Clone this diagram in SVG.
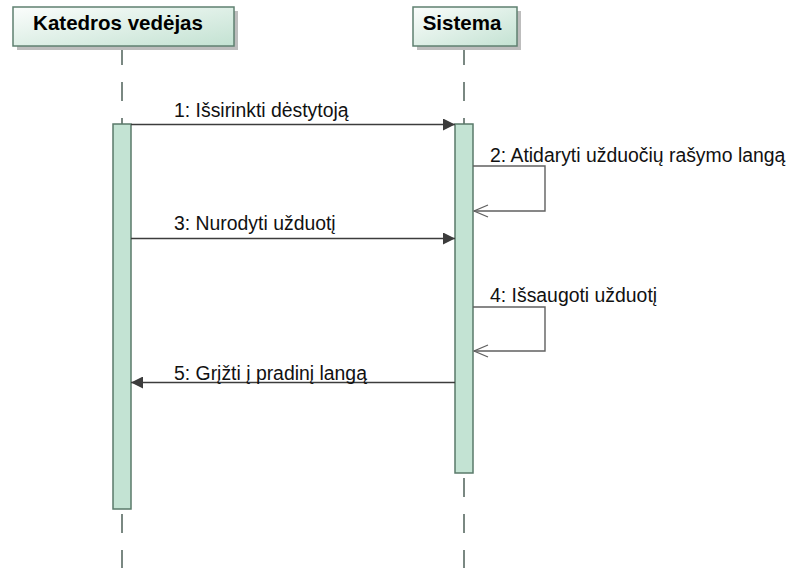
<svg xmlns="http://www.w3.org/2000/svg" width="792" height="568" viewBox="0 0 792 568">
  <defs>
    <linearGradient id="hdr" x1="0" y1="0" x2="1" y2="1">
      <stop offset="0" stop-color="#fbfdfc"/>
      <stop offset="1" stop-color="#c3e2d2"/>
    </linearGradient>
    <marker id="filled" viewBox="0 0 12 12" refX="12" refY="6" markerWidth="12" markerHeight="12" markerUnits="userSpaceOnUse" orient="auto">
      <path d="M0,0 L12,6 L0,12 Z" fill="#3c3c3c"/>
    </marker>
    <marker id="open" viewBox="0 0 16 14" refX="15" refY="7" markerWidth="16" markerHeight="14" markerUnits="userSpaceOnUse" orient="auto">
      <path d="M1,1 L15,7 L1,13" fill="none" stroke="#606060" stroke-width="1.3"/>
    </marker>
  </defs>
  <style>
    .shadow { fill: #bdbdbd; }
    .head { fill: url(#hdr); stroke: #5f8070; stroke-width: 1.5; }
    .title { font-family: "Liberation Sans", Arial, sans-serif; font-weight: bold; font-size: 20.5px; fill: #000; text-anchor: middle; }
    .life { stroke: #4f625a; stroke-width: 1.5; stroke-dasharray: 19 17; fill: none; }
    .act { fill: #c3e3d3; stroke: #5a7a6a; stroke-width: 1.5; }
    .msg { stroke: #3c3c3c; stroke-width: 1.4; fill: none; }
    .self { stroke: #606060; stroke-width: 1.4; fill: none; }
    .lbl { font-family: "Liberation Sans", Arial, sans-serif; font-size: 19.4px; fill: #111; }
  </style>
  <rect width="792" height="568" fill="#ffffff"/>

  <!-- lifelines -->
  <g id="lifelines">
    <line class="life" x1="122" y1="46" x2="122" y2="568"/>
    <line class="life" x1="464" y1="46" x2="464" y2="568"/>
  </g>

  <g id="katedros-vedejas">
    <rect class="shadow" x="17" y="11" width="221" height="39"/>
    <rect class="head" x="13" y="7" width="221" height="39"/>
    <text class="title" x="118" y="30">Katedros vedėjas</text>
    <rect class="act" x="113" y="124" width="18" height="385"/>
  </g>

  <g id="sistema">
    <rect class="shadow" x="417" y="11" width="104" height="39"/>
    <rect class="head" x="413" y="7" width="104" height="39"/>
    <text class="title" x="462" y="30">Sistema</text>
    <rect class="act" x="455" y="124" width="18" height="349"/>
  </g>

  <!-- messages -->
  <g id="connectors">
    <line class="msg" x1="131" y1="124.5" x2="455" y2="124.5" marker-end="url(#filled)"/>
    <text class="lbl" x="174" y="117">1: Išsirinkti dėstytoją</text>

    <polyline class="self" points="473,166 545,166 545,211 474,211" marker-end="url(#open)"/>
    <text class="lbl" x="490" y="162">2: Atidaryti užduočių rašymo langą</text>

    <line class="msg" x1="131" y1="238.5" x2="455" y2="238.5" marker-end="url(#filled)"/>
    <text class="lbl" x="174" y="230">3: Nurodyti užduotį</text>

    <polyline class="self" points="473,307 545,307 545,351 474,351" marker-end="url(#open)"/>
    <text class="lbl" x="490" y="302">4: Išsaugoti užduotį</text>

    <line class="msg" x1="455" y1="382.5" x2="131" y2="382.5" marker-end="url(#filled)"/>
    <text class="lbl" x="174" y="380">5: Grįžti į pradinį langą</text>
  </g>
</svg>
